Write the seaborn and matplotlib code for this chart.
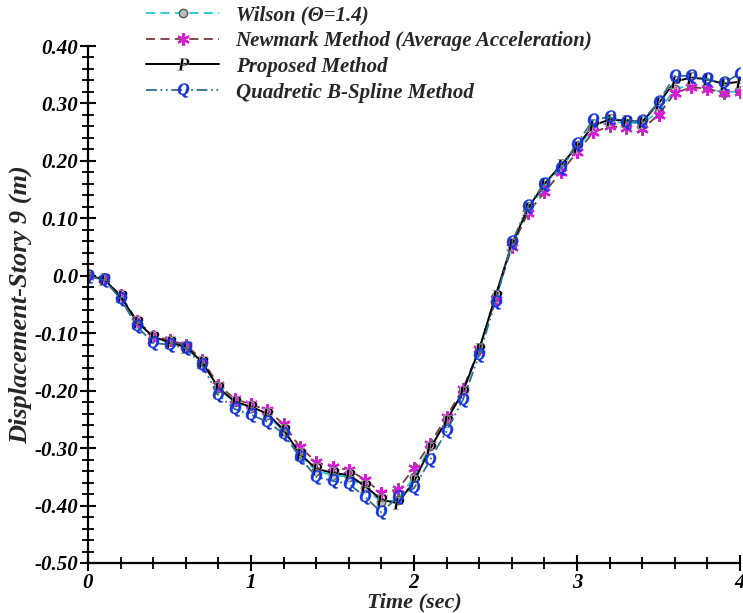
import matplotlib
matplotlib.use("Agg")
import matplotlib.pyplot as plt
from matplotlib.ticker import MultipleLocator, FixedLocator, FixedFormatter
import numpy as np
import seaborn as sns

# ---- Data (time step 0.1 s) ----
time_sec = [round(0.1 * i, 1) for i in range(41)]

wilson = [0.000, -0.006, -0.036, -0.080, -0.106, -0.114, -0.122, -0.150, -0.196, -0.220,
          -0.230, -0.243, -0.270, -0.312, -0.340, -0.347, -0.350, -0.370, -0.394, -0.390,
          -0.350, -0.296, -0.250, -0.200, -0.128, -0.036, 0.054, 0.115, 0.156, 0.188,
          0.222, 0.258, 0.268, 0.266, 0.266, 0.285, 0.325, 0.332, 0.328, 0.318, 0.322]

newmark = [0.000, -0.006, -0.034, -0.078, -0.104, -0.112, -0.120, -0.146, -0.190, -0.214,
           -0.224, -0.234, -0.258, -0.298, -0.324, -0.333, -0.338, -0.355, -0.378, -0.372,
           -0.335, -0.292, -0.245, -0.197, -0.128, -0.040, 0.050, 0.110, 0.145, 0.180,
           0.215, 0.250, 0.260, 0.258, 0.256, 0.280, 0.318, 0.328, 0.326, 0.318, 0.320]

proposed = [0.000, -0.006, -0.036, -0.080, -0.106, -0.116, -0.124, -0.150, -0.195, -0.219,
            -0.228, -0.240, -0.268, -0.310, -0.336, -0.343, -0.347, -0.366, -0.390, -0.396,
            -0.358, -0.300, -0.252, -0.202, -0.128, -0.035, 0.055, 0.118, 0.160, 0.192,
            0.225, 0.262, 0.272, 0.270, 0.268, 0.300, 0.338, 0.345, 0.342, 0.334, 0.338]

bspline = [0.000, -0.008, -0.040, -0.088, -0.117, -0.120, -0.126, -0.156, -0.208, -0.232,
           -0.242, -0.254, -0.275, -0.316, -0.350, -0.357, -0.362, -0.385, -0.412, -0.385,
           -0.370, -0.320, -0.270, -0.216, -0.138, -0.045, 0.058, 0.122, 0.160, 0.188,
           0.230, 0.272, 0.276, 0.268, 0.270, 0.302, 0.348, 0.348, 0.342, 0.336, 0.352]

labels = ["Wilson (\u0398=1.4)",
          "Newmark Method (Average Acceleration)",
          "Proposed Method",
          "Quadretic B-Spline Method"]

y_ticks = [0.40, 0.30, 0.20, 0.10, 0.0, -0.10, -0.20, -0.30, -0.40, -0.50]
y_tick_labels = ["0.40", "0.30", "0.20", "0.10", "0.0", "-0.10", "-0.20", "-0.30", "-0.40", "-0.50"]
x_ticks = [0, 1, 2, 3, 4]
x_tick_labels = ["0", "1", "2", "3", "4"]

# ---- Style ----
sns.set_style("white")
plt.rcParams["font.family"] = ["Liberation Serif", "DejaVu Serif"]
plt.rcParams["font.weight"] = "bold"
plt.rcParams["font.style"] = "italic"
plt.rcParams["axes.labelweight"] = "bold"
plt.rcParams["mathtext.fontset"] = "custom"
plt.rcParams["mathtext.bf"] = "Liberation Serif:bold"

fig = plt.figure(figsize=(7.43, 6.13), dpi=100)
ax = fig.add_axes([88 / 743, 1 - 563 / 613, (740 - 88) / 743, (563 - 46) / 613])

sns.lineplot(x=time_sec, y=wilson, ax=ax, label=labels[0], color="#22c8d2",
             linestyle=(0, (5, 3)), linewidth=1.3, marker="o", markersize=6,
             markerfacecolor="#bdbdbd", markeredgecolor="#555555", markeredgewidth=1.0)
sns.lineplot(x=time_sec, y=newmark, ax=ax, label=labels[1], color="#7a3c3c",
             linestyle=(0, (5, 3)), linewidth=1.3, marker=(6, 2, 0), markersize=9,
             markeredgecolor="#d020d0", markeredgewidth=1.6)
sns.lineplot(x=time_sec, y=proposed, ax=ax, label=labels[2], color="black",
             linestyle="-", linewidth=1.4, marker="$\\mathbf{P}$", markersize=9,
             markeredgewidth=0.3)
sns.lineplot(x=time_sec, y=bspline, ax=ax, label=labels[3], color="#2d6f8f",
             linestyle=(0, (6, 2, 1, 2, 1, 2)), linewidth=1.3, marker="$\\mathbf{Q}$",
             markersize=10, markerfacecolor="#1535e0", markeredgecolor="#1535e0",
             markeredgewidth=0.3)

ax.set_xlim(0, 4)
ax.set_ylim(-0.5, 0.4)
ax.xaxis.set_major_locator(FixedLocator(x_ticks))
ax.xaxis.set_major_formatter(FixedFormatter(x_tick_labels))
ax.yaxis.set_major_locator(FixedLocator(y_ticks))
ax.yaxis.set_major_formatter(FixedFormatter(y_tick_labels))
ax.xaxis.set_minor_locator(MultipleLocator(0.2))
ax.yaxis.set_minor_locator(MultipleLocator(0.02))

ax.tick_params(which="major", direction="inout", length=12, width=1.5, colors="black",
               labelsize=15, pad=1)
ax.tick_params(which="minor", direction="inout", length=8, width=1.3, colors="black")
ax.tick_params(axis="both", which="both", bottom=True, left=True)

for side in ["top", "right"]:
    ax.spines[side].set_visible(False)
for side in ["left", "bottom"]:
    ax.spines[side].set_linewidth(1.6)
    ax.spines[side].set_color("black")

ax.set_xlabel("Time (sec)", fontsize=16, fontweight="bold", labelpad=0)
ax.set_ylabel("Displacement-Story 9 (m)", fontsize=19, fontweight="bold", labelpad=2)

leg = ax.legend(loc="upper left", bbox_to_anchor=(145 / 743, 1 - 4 / 613),
                bbox_transform=fig.transFigure,
                frameon=False, prop={"size": 15, "weight": "bold", "style": "italic"},
                handlelength=3.5, handletextpad=0.8, labelspacing=0.28,
                borderpad=0.05, borderaxespad=0)

fig.savefig("out.png", dpi=100)
